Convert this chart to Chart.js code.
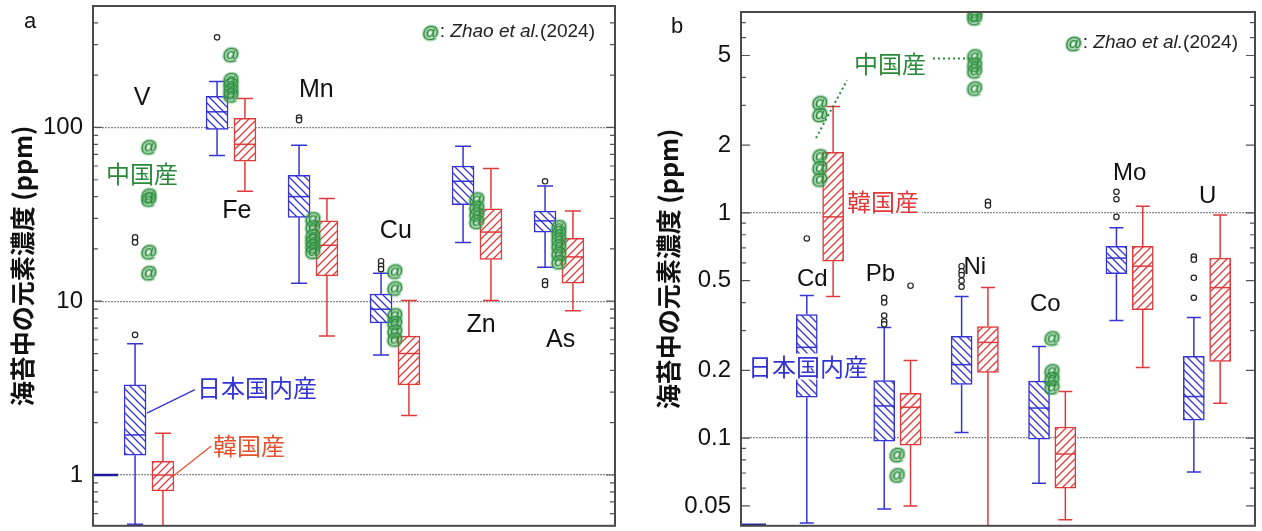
<!DOCTYPE html>
<html>
<head>
<meta charset="utf-8">
<script src="https://cdn.jsdelivr.net/npm/chart.js@4.4.1/dist/chart.umd.min.js"></script>
<style>
html, body { margin: 0; padding: 0; background: #fff; }
#wrap { position: relative; width: 1262px; height: 531px; }
canvas { position: absolute; top: 0; }
</style>
</head>
<body>
<div id="wrap">
  <canvas id="ca" width="630" height="531" style="left:0"></canvas>
  <canvas id="cb" width="632" height="531" style="left:630px"></canvas>
</div>
<script>
// ---- panel a : V, Fe, Mn, Cu, Zn, As ----
const elementsA = ['V', 'Fe', 'Mn', 'Cu', 'Zn', 'As'];
const jpMinA = [0.52, 69, 12.7, 4.9, 21.8, 15.7];
const jpQ1A  = [1.3, 97.5, 30.4, 7.5, 36, 25];
const jpMedA = [1.7, 123, 40, 9.0, 49, 29];
const jpQ3A  = [3.3, 151, 53, 11, 60, 33];
const jpMaxA = [5.7, 184, 79, 14.5, 78, 46];
const krMinA = [0.4, 43, 6.3, 2.2, 10.1, 8.8];
const krQ1A  = [0.81, 64, 14, 3.3, 17.4, 12.7];
const krMedA = [1.0, 80, 21, 5.0, 25, 18];
const krQ3A  = [1.2, 113, 29, 6.3, 34, 23];
const krMaxA = [1.74, 147, 39, 10.1, 58, 33];
const jpOutA = [[6.4, 23.3, 21.8], [330], [114, 110], [17, 16, 15.3], [], [49, 13, 12.4]];
const krOutA = [[], [], [], [], [], []];
const zhaoA  = [[78, 41, 39, 19.4, 14.7], [265, 190, 178, 165, 155], [30, 27, 24, 22.5, 21, 19.5],
                [15, 12, 8.4, 7.6, 6.8, 6.1], [39, 35, 32, 29], [27, 25, 23, 21, 19, 17]];
const ticksA = [1, 10, 100];
const gridA  = [1, 10, 100];

// ---- panel b : Cd, Pb, Ni, Co, Mo, U ----
const elementsB = ['Cd', 'Pb', 'Ni', 'Co', 'Mo', 'U'];
const jpMinB = [0.042, 0.0485, 0.106, 0.063, 0.333, 0.0707];
const jpQ1B  = [0.152, 0.097, 0.173, 0.099, 0.537, 0.12];
const jpMedB = [0.253, 0.139, 0.212, 0.136, 0.63, 0.153];
const jpQ3B  = [0.354, 0.18, 0.283, 0.179, 0.71, 0.231];
const jpMaxB = [0.43, 0.31, 0.425, 0.255, 0.86, 0.343];
const krMinB = [0.425, 0.05, 0.03, 0.0434, 0.206, 0.143];
const krQ1B  = [0.61, 0.093, 0.196, 0.06, 0.372, 0.219];
const krMedB = [0.96, 0.137, 0.266, 0.085, 0.58, 0.466];
const krQ3B  = [1.86, 0.158, 0.313, 0.112, 0.71, 0.63];
const krMaxB = [2.97, 0.221, 0.466, 0.161, 1.07, 0.98];
const jpOutB = [[0.77], [0.42, 0.40, 0.35, 0.33, 0.32], [0.58, 0.55, 0.53, 0.5, 0.47], [], [1.24, 1.15, 0.96], [0.64, 0.62, 0.515, 0.42]];
const krOutB = [[], [0.475], [1.12, 1.08], [], [], []];
const zhaoB  = [[3.1, 2.75, 1.8, 1.6, 1.42], [0.085, 0.069], [7.7, 7.4, 5.0, 4.6, 4.3, 3.6], [0.28, 0.2, 0.185, 0.17], [], []];
const ticksB = [0.05, 0.1, 0.2, 0.5, 1, 2, 5];
const gridB  = [0.1, 1];

const BLUE = '#3434d4';
const RED = '#e03a3a';
const ORANGE = '#e5532e';
const GREEN = '#2a8a3a';
const LAT = '"Liberation Sans", Arial, sans-serif';
const JP = '"Noto Sans CJK JP", "Noto Sans CJK SC", sans-serif';
const OFF = 0.17;
Chart.defaults.font.family = LAT;

function hatch(ctx, color, slash) {
  const s = 8;
  const c = document.createElement('canvas');
  c.width = c.height = s;
  const g = c.getContext('2d');
  g.fillStyle = '#fff';
  g.fillRect(0, 0, s, s);
  g.strokeStyle = color;
  g.lineWidth = 1.3;
  g.beginPath();
  if (slash) {
    g.moveTo(-1, s + 1); g.lineTo(s + 1, -1);
    g.moveTo(-s / 2 - 1, s / 2 + 1); g.lineTo(s / 2 + 1, -s / 2 - 1);
    g.moveTo(s / 2 - 1, s * 1.5 + 1); g.lineTo(s * 1.5 + 1, s / 2 - 1);
  } else {
    g.moveTo(-1, -1); g.lineTo(s + 1, s + 1);
    g.moveTo(-s / 2 - 1, s / 2 - 1); g.lineTo(s / 2 + 1, s * 1.5 + 1);
    g.moveTo(s / 2 - 1, -s / 2 - 1); g.lineTo(s * 1.5 + 1, s / 2 + 1);
  }
  g.stroke();
  return ctx.createPattern(c, 'repeat');
}

function drawAt(g, x, y) {
  g.font = '17px ' + LAT;
  g.textAlign = 'center';
  g.textBaseline = 'middle';
  g.lineWidth = 2.5;
  g.strokeStyle = 'rgba(80,170,95,0.5)';
  g.strokeText('@', x, y);
  g.fillStyle = GREEN;
  g.fillText('@', x, y);
}

const atImg = document.createElement('canvas');
atImg.width = 22; atImg.height = 22;
drawAt(atImg.getContext('2d'), 11, 12);

function panelPlugin(p) {
  return {
    id: 'panel' + p.letter,
    beforeDatasetsDraw(chart) {
      const { ctx, chartArea: a, scales: { x, y } } = chart;
      ctx.save();
      ctx.beginPath();
      ctx.rect(a.left, a.top, a.right - a.left, a.bottom - a.top);
      ctx.clip();
      p.groups.forEach(g => {
        ctx.strokeStyle = g.color;
        ctx.lineWidth = 1.5;
        g.q1.forEach((q1, i) => {
          const px = x.getPixelForValue(i + g.off);
          const yMax = y.getPixelForValue(g.max[i]);
          const yMin = y.getPixelForValue(g.min[i]);
          ctx.beginPath();
          ctx.moveTo(px, y.getPixelForValue(g.q3[i])); ctx.lineTo(px, yMax);
          ctx.moveTo(px - p.cap, yMax); ctx.lineTo(px + p.cap, yMax);
          ctx.moveTo(px, y.getPixelForValue(q1)); ctx.lineTo(px, yMin);
          ctx.moveTo(px - p.cap, yMin); ctx.lineTo(px + p.cap, yMin);
          ctx.stroke();
        });
      });
      ctx.restore();
    },
    afterDatasetDraw(chart, args) {
      const g = p.groups[args.index];
      if (!g) return;
      const { ctx, scales: { x, y } } = chart;
      ctx.save();
      ctx.strokeStyle = g.color;
      ctx.lineWidth = 1.5;
      g.med.forEach((m, i) => {
        const px = x.getPixelForValue(i + g.off);
        const py = y.getPixelForValue(m);
        ctx.beginPath();
        ctx.moveTo(px - p.boxW / 2, py);
        ctx.lineTo(px + p.boxW / 2, py);
        ctx.stroke();
      });
      ctx.restore();
    },
    afterDatasetsDraw(chart) {
      const { ctx, chartArea: a, scales: { x, y } } = chart;
      ctx.save();
      // leader lines
      p.lines.forEach(l => {
        ctx.strokeStyle = l.color;
        ctx.lineWidth = l.width || 1.3;
        ctx.setLineDash(l.dash || []);
        ctx.beginPath();
        ctx.moveTo(x.getPixelForValue(l.x1), y.getPixelForValue(l.y1));
        ctx.lineTo(x.getPixelForValue(l.x2), y.getPixelForValue(l.y2));
        ctx.stroke();
      });
      ctx.setLineDash([]);
      // labels
      ctx.textBaseline = 'middle';
      p.notes.forEach(n => {
        const px = x.getPixelForValue(n.x);
        const py = y.getPixelForValue(n.y);
        ctx.font = n.font;
        ctx.textAlign = n.align || 'center';
        if (n.bg) {
          const w = ctx.measureText(n.t).width;
          const x0 = n.align === 'left' ? px : px - w / 2;
          ctx.fillStyle = '#fff';
          ctx.fillRect(x0 - 3, py - 13, w + 6, 26);
        }
        ctx.fillStyle = n.color;
        ctx.fillText(n.t, px, py);
      });
      // "@: Zhao et al.(2024)"
      const parts = [
        { t: ': ', f: '19px ' + LAT },
        { t: 'Zhao et al.', f: 'italic 19px ' + LAT },
        { t: '(2024)', f: '19px ' + LAT }
      ];
      let w = 18;
      parts.forEach(s => { ctx.font = s.f; s.w = ctx.measureText(s.t).width; w += s.w; });
      let cx = a.right - p.legRight - w;
      const cy = a.top + p.legTop;
      drawAt(ctx, cx + 9, cy + 1);
      cx += 18;
      ctx.textAlign = 'left';
      ctx.textBaseline = 'middle';
      ctx.fillStyle = '#222';
      parts.forEach(s => { ctx.font = s.f; ctx.fillText(s.t, cx, cy); cx += s.w; });
      ctx.restore();
    },
    afterDraw(chart) {
      const { ctx, chartArea: a, scales: { y } } = chart;
      ctx.save();
      // minor / major tick marks on both sides
      ctx.strokeStyle = '#555';
      ctx.lineWidth = 1.2;
      const lo = Math.floor(Math.log10(p.yMin));
      const hi = Math.ceil(Math.log10(p.yMax));
      ctx.beginPath();
      for (let e = lo; e <= hi; e++) {
        for (let k = 1; k <= 9; k++) {
          const v = k * Math.pow(10, e);
          if (v < p.yMin || v > p.yMax) continue;
          const yy = y.getPixelForValue(v);
          const len = p.ticks.some(t => Math.abs(t - v) / v < 1e-6) ? 9 : 5;
          ctx.moveTo(a.left, yy); ctx.lineTo(a.left + len, yy);
          ctx.moveTo(a.right, yy); ctx.lineTo(a.right - len, yy);
        }
      }
      ctx.stroke();
      // short blue mark at the left edge
      ctx.strokeStyle = '#1c1c9c';
      ctx.lineWidth = 2.5;
      const my = p.markAtBottom ? a.bottom - 1 : y.getPixelForValue(1);
      ctx.beginPath();
      ctx.moveTo(a.left, my); ctx.lineTo(a.left + 25, my);
      ctx.stroke();
      // frame
      ctx.strokeStyle = '#4a4a4a';
      ctx.lineWidth = 2;
      ctx.strokeRect(a.left, a.top, a.right - a.left, a.bottom - a.top);
      // panel letter
      ctx.fillStyle = '#111';
      ctx.font = '22px ' + LAT;
      ctx.textAlign = 'center';
      ctx.textBaseline = 'middle';
      ctx.fillText(p.letter, p.letterX, p.letterY);
      ctx.restore();
    }
  };
}

function makePanel(id, p) {
  const ctx = document.getElementById(id).getContext('2d');
  const jp = p.groups[0], kr = p.groups[1];
  const boxes = g => g.q1.map((q, i) => ({ x: i + g.off, y: [q, g.q3[i]] }));
  const outliers = [];
  [[jp, p.jpOut], [kr, p.krOut]].forEach(([g, list]) =>
    list.forEach((vals, i) => vals.forEach(v => outliers.push({ x: i + g.off, y: v }))));
  const zhao = [];
  p.zhao.forEach((vals, i) => vals.forEach(v => zhao.push({ x: i, y: v })));

  return new Chart(ctx, {
    type: 'bar',
    data: {
      datasets: [
        { type: 'bar', data: boxes(jp), backgroundColor: hatch(ctx, BLUE, false), borderColor: BLUE,
          borderWidth: 1.5, borderSkipped: false, barThickness: p.boxW, grouped: false, order: 4 },
        { type: 'bar', data: boxes(kr), backgroundColor: hatch(ctx, RED, true), borderColor: RED,
          borderWidth: 1.5, borderSkipped: false, barThickness: p.boxW, grouped: false, order: 3 },
        { type: 'scatter', data: outliers, pointStyle: 'circle', pointRadius: 2.7,
          borderColor: '#222', borderWidth: 1.2, backgroundColor: '#fff', order: 2 },
        { type: 'scatter', data: zhao, pointStyle: atImg, order: 1 }
      ]
    },
    options: {
      responsive: false,
      animation: false,
      events: [],
      layout: { padding: p.pad },
      plugins: { legend: { display: false }, tooltip: { enabled: false } },
      scales: {
        x: { type: 'linear', display: false, min: p.xMin, max: p.xMax, offset: false },
        y: {
          type: 'logarithmic', min: p.yMin, max: p.yMax, stacked: false,
          afterFit: s => { s.width = p.axisW; s.paddingTop = 0; s.paddingBottom = 0; },
          afterBuildTicks: s => { s.ticks = p.ticks.map(v => ({ value: v })); },
          ticks: { autoSkip: false, callback: v => String(v), color: '#111', padding: 10,
                   font: { size: 24, family: LAT } },
          grid: { drawTicks: false, lineWidth: 1.3,
                  color: c => (c.tick && p.grid.includes(c.tick.value)) ? '#8a8a8a' : 'rgba(0,0,0,0)' },
          border: { display: false, dash: [2, 1] },
          title: { display: true, text: '海苔中の元素濃度 (ppm)', color: '#111',
                   font: { size: 25, weight: 'bold', family: JP },
                   padding: { top: p.titlePad, bottom: 0 } }
        }
      }
    },
    plugins: [panelPlugin(p)]
  });
}

const latin = '25px ' + LAT;
const jpText = '24px ' + JP;

makePanel('ca', {
  letter: 'a', letterX: 30, letterY: 22,
  xMin: -0.683, xMax: 5.683, yMin: 0.51, yMax: 500,
  pad: { left: 0, right: 15, top: 6, bottom: 4 }, axisW: 93, titlePad: 7,
  boxW: 22, cap: 8, legRight: 20, legTop: 26, markAtBottom: false,
  ticks: ticksA, grid: gridA,
  groups: [
    { color: BLUE, off: -OFF, min: jpMinA, q1: jpQ1A, med: jpMedA, q3: jpQ3A, max: jpMaxA },
    { color: RED, off: OFF, min: krMinA, q1: krQ1A, med: krMedA, q3: krQ3A, max: krMaxA }
  ],
  jpOut: jpOutA, krOut: krOutA, zhao: zhaoA,
  notes: [
    { t: elementsA[0], x: -0.085, y: 147, font: latin, color: '#111' },
    { t: elementsA[1], x: 1.07, y: 32.9, font: latin, color: '#111' },
    { t: elementsA[2], x: 2.04, y: 163, font: latin, color: '#111' },
    { t: elementsA[3], x: 3.01, y: 25.3, font: latin, color: '#111' },
    { t: elementsA[4], x: 4.05, y: 7.27, font: latin, color: '#111' },
    { t: elementsA[5], x: 5.02, y: 5.97, font: latin, color: '#111' },
    { t: '中国産', x: -0.085, y: 54.4, font: jpText, color: GREEN },
    { t: '日本国内産', x: 0.585, y: 3.16, font: jpText, color: BLUE, align: 'left' },
    { t: '韓国産', x: 0.78, y: 1.47, font: jpText, color: ORANGE, align: 'left' }
  ],
  lines: [
    { x1: -0.025, y1: 2.27, x2: 0.56, y2: 3.1, color: BLUE },
    { x1: 0.28, y1: 0.974, x2: 0.76, y2: 1.47, color: ORANGE }
  ]
});

makePanel('cb', {
  letter: 'b', letterX: 47, letterY: 27,
  xMin: -1.02, xMax: 5.62, yMin: 0.0408, yMax: 7.8,
  pad: { left: 0, right: 7, top: 12, bottom: 4 }, axisW: 111, titlePad: 23,
  boxW: 21, cap: 7, legRight: 17, legTop: 31, markAtBottom: true,
  ticks: ticksB, grid: gridB,
  groups: [
    { color: BLUE, off: -OFF, min: jpMinB, q1: jpQ1B, med: jpMedB, q3: jpQ3B, max: jpMaxB },
    { color: RED, off: OFF, min: krMinB, q1: krQ1B, med: krMedB, q3: krQ3B, max: krMaxB }
  ],
  jpOut: jpOutB, krOut: krOutB, zhao: zhaoB,
  notes: [
    { t: elementsB[0], x: -0.10, y: 0.505, font: '24px ' + LAT, color: '#111' },
    { t: elementsB[1], x: 0.78, y: 0.532, font: '24px ' + LAT, color: '#111' },
    { t: elementsB[2], x: 2.0, y: 0.571, font: '24px ' + LAT, color: '#111' },
    { t: elementsB[3], x: 2.91, y: 0.392, font: '24px ' + LAT, color: '#111' },
    { t: elementsB[4], x: 4.0, y: 1.5, font: '24px ' + LAT, color: '#111' },
    { t: elementsB[5], x: 5.01, y: 1.18, font: '24px ' + LAT, color: '#111' },
    { t: '中国産', x: 0.905, y: 4.61, font: jpText, color: GREEN },
    { t: '韓国産', x: 0.815, y: 1.118, font: jpText, color: RED, bg: true },
    { t: '日本国内産', x: -0.154, y: 0.208, font: jpText, color: BLUE, bg: true }
  ],
  lines: [
    { x1: -0.051, y1: 2.15, x2: 0.35, y2: 3.88, color: GREEN, dash: [2, 3], width: 2 },
    { x1: 1.46, y1: 4.85, x2: 1.94, y2: 4.85, color: GREEN, dash: [2, 3], width: 2 }
  ]
});
</script>
</body>
</html>
